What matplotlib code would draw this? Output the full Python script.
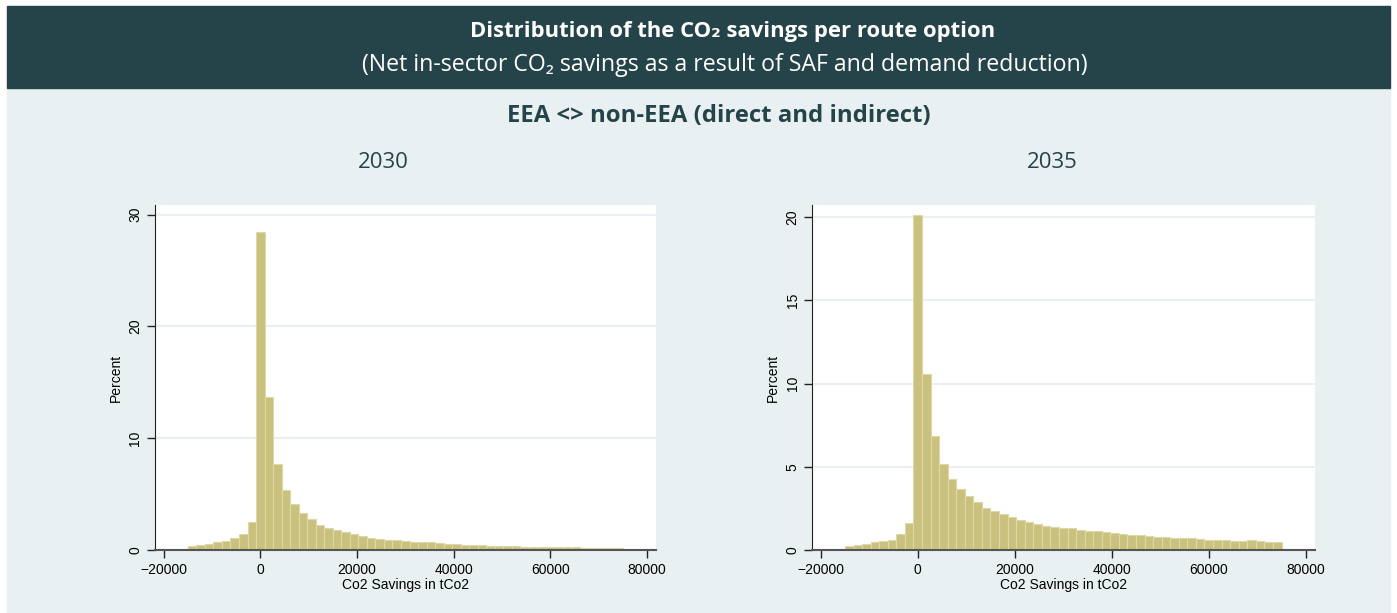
import numpy as np
import matplotlib.pyplot as plt
from matplotlib.patches import Rectangle

# histogram bins (Co2 savings in tCo2)
bin_start, bin_end, n_bins = -15000, 75000, 51

# percent per bin
pct_2030 = [0.36, 0.45, 0.57, 0.74, 0.80, 1.07, 1.43, 2.5,
            28.45,
            13.7, 7.68, 5.33, 4.08, 3.27, 2.74, 2.23, 1.93, 1.76, 1.61,
            1.43, 1.25, 1.04, 0.95, 0.89, 0.89, 0.80, 0.71, 0.71, 0.69,
            0.60, 0.52, 0.50, 0.42, 0.42, 0.41, 0.33, 0.33, 0.32, 0.32,
            0.31, 0.27, 0.27, 0.27, 0.26, 0.26, 0.25, 0.19, 0.18, 0.18,
            0.18, 0.18]
pct_2035 = [0.24, 0.30, 0.38, 0.50, 0.54, 0.60, 0.96, 1.62,
            20.16,
            10.58, 6.85, 5.17, 4.27, 3.65, 3.25, 2.89, 2.53, 2.34, 2.16,
            1.98, 1.80, 1.68, 1.56, 1.44, 1.38, 1.34, 1.31, 1.21, 1.13,
            1.13, 1.07, 1.01, 0.95, 0.89, 0.89, 0.83, 0.77, 0.77, 0.71,
            0.71, 0.71, 0.65, 0.58, 0.58, 0.58, 0.52, 0.52, 0.58, 0.52,
            0.46, 0.46]

years = ['2030', '2035']
yticks = [[0, 10, 20, 30], [0, 5, 10, 15, 20]]
ylims = [30.87, 20.74]
xticks = [-20000, 0, 20000, 40000, 60000, 80000]

header_col = '#25444a'
panel_col = '#e8f0f2'
bar_col = '#c9c17d'
bar_edge = '#ddd8a8'

W, H = 1397, 613
fig = plt.figure(figsize=(W / 100, H / 100), dpi=100)
fig.patch.set_facecolor('white')

# background panels
fig.add_artist(Rectangle((7 / W, 0), (1390 - 7) / W, (H - 88) / H,
                         transform=fig.transFigure, color=panel_col, zorder=0))
fig.add_artist(Rectangle((7 / W, (H - 88) / H), (1390 - 7) / W, (88 - 6) / H,
                         transform=fig.transFigure, color=header_col, zorder=0))

title_font = ['Open Sans', 'DejaVu Sans']
fig.text(733 / W, 1 - 31 / H, 'Distribution of the CO₂ savings per route option',
         ha='center', va='center', color='white', fontsize=15.8, fontweight='bold',
         family=title_font)
fig.text(725 / W, 1 - 65 / H, '(Net in-sector CO₂ savings as a result of SAF and demand reduction)',
         ha='center', va='center', color='white', fontsize=16.7, family=title_font)
fig.text(719 / W, 1 - 116 / H, 'EEA <> non-EEA (direct and indirect)',
         ha='center', va='center', color=header_col, fontsize=17.2, fontweight='bold',
         family=title_font)

edges = np.linspace(bin_start, bin_end, n_bins + 1)
width = edges[1] - edges[0]

axes_x = [(155, 656), (812, 1315)]
title_x = [383, 1052]
for i, pct in enumerate([pct_2030, pct_2035]):
    x0, x1 = axes_x[i]
    ax = fig.add_axes([x0 / W, (H - 550) / H, (x1 - x0) / W, (550 - 205) / H])
    ax.set_facecolor('white')
    ax.bar(edges[:-1], pct, width=width, align='edge', color=bar_col,
           edgecolor=bar_edge, linewidth=0.8, zorder=2)
    ax.set_xlim(-21800, 81900)
    ax.set_ylim(0, ylims[i])
    ax.set_xticks(xticks)
    ax.set_yticks(yticks[i])
    ax.set_yticklabels([str(t) for t in yticks[i]], rotation=90, va='center')
    ax.tick_params(axis='both', labelsize=10, length=6, width=1, colors='#222222',
                   labelcolor='black', pad=3)
    ax.yaxis.grid(True, color='#e6eef0', linewidth=1.2, zorder=0)
    ax.set_axisbelow(True)
    for s in ['top', 'right']:
        ax.spines[s].set_visible(False)
    ax.spines['left'].set_color('#222222')
    ax.spines['bottom'].set_color('#555555')
    ax.spines['bottom'].set_linewidth(1.5)
    ax.set_xlabel('Co2 Savings in tCo2', fontsize=10, labelpad=1,
                  family='Liberation Sans')
    ax.set_ylabel('Percent', fontsize=10, labelpad=4, family='Liberation Sans')
    for lab in ax.get_xticklabels() + ax.get_yticklabels():
        lab.set_family('Liberation Sans')
    fig.text(title_x[i] / W, 1 - 162 / H, years[i], ha='center', va='center',
             fontsize=16, color='#25444a', family=title_font)

fig.savefig('out.png', dpi=100, facecolor=fig.get_facecolor())
